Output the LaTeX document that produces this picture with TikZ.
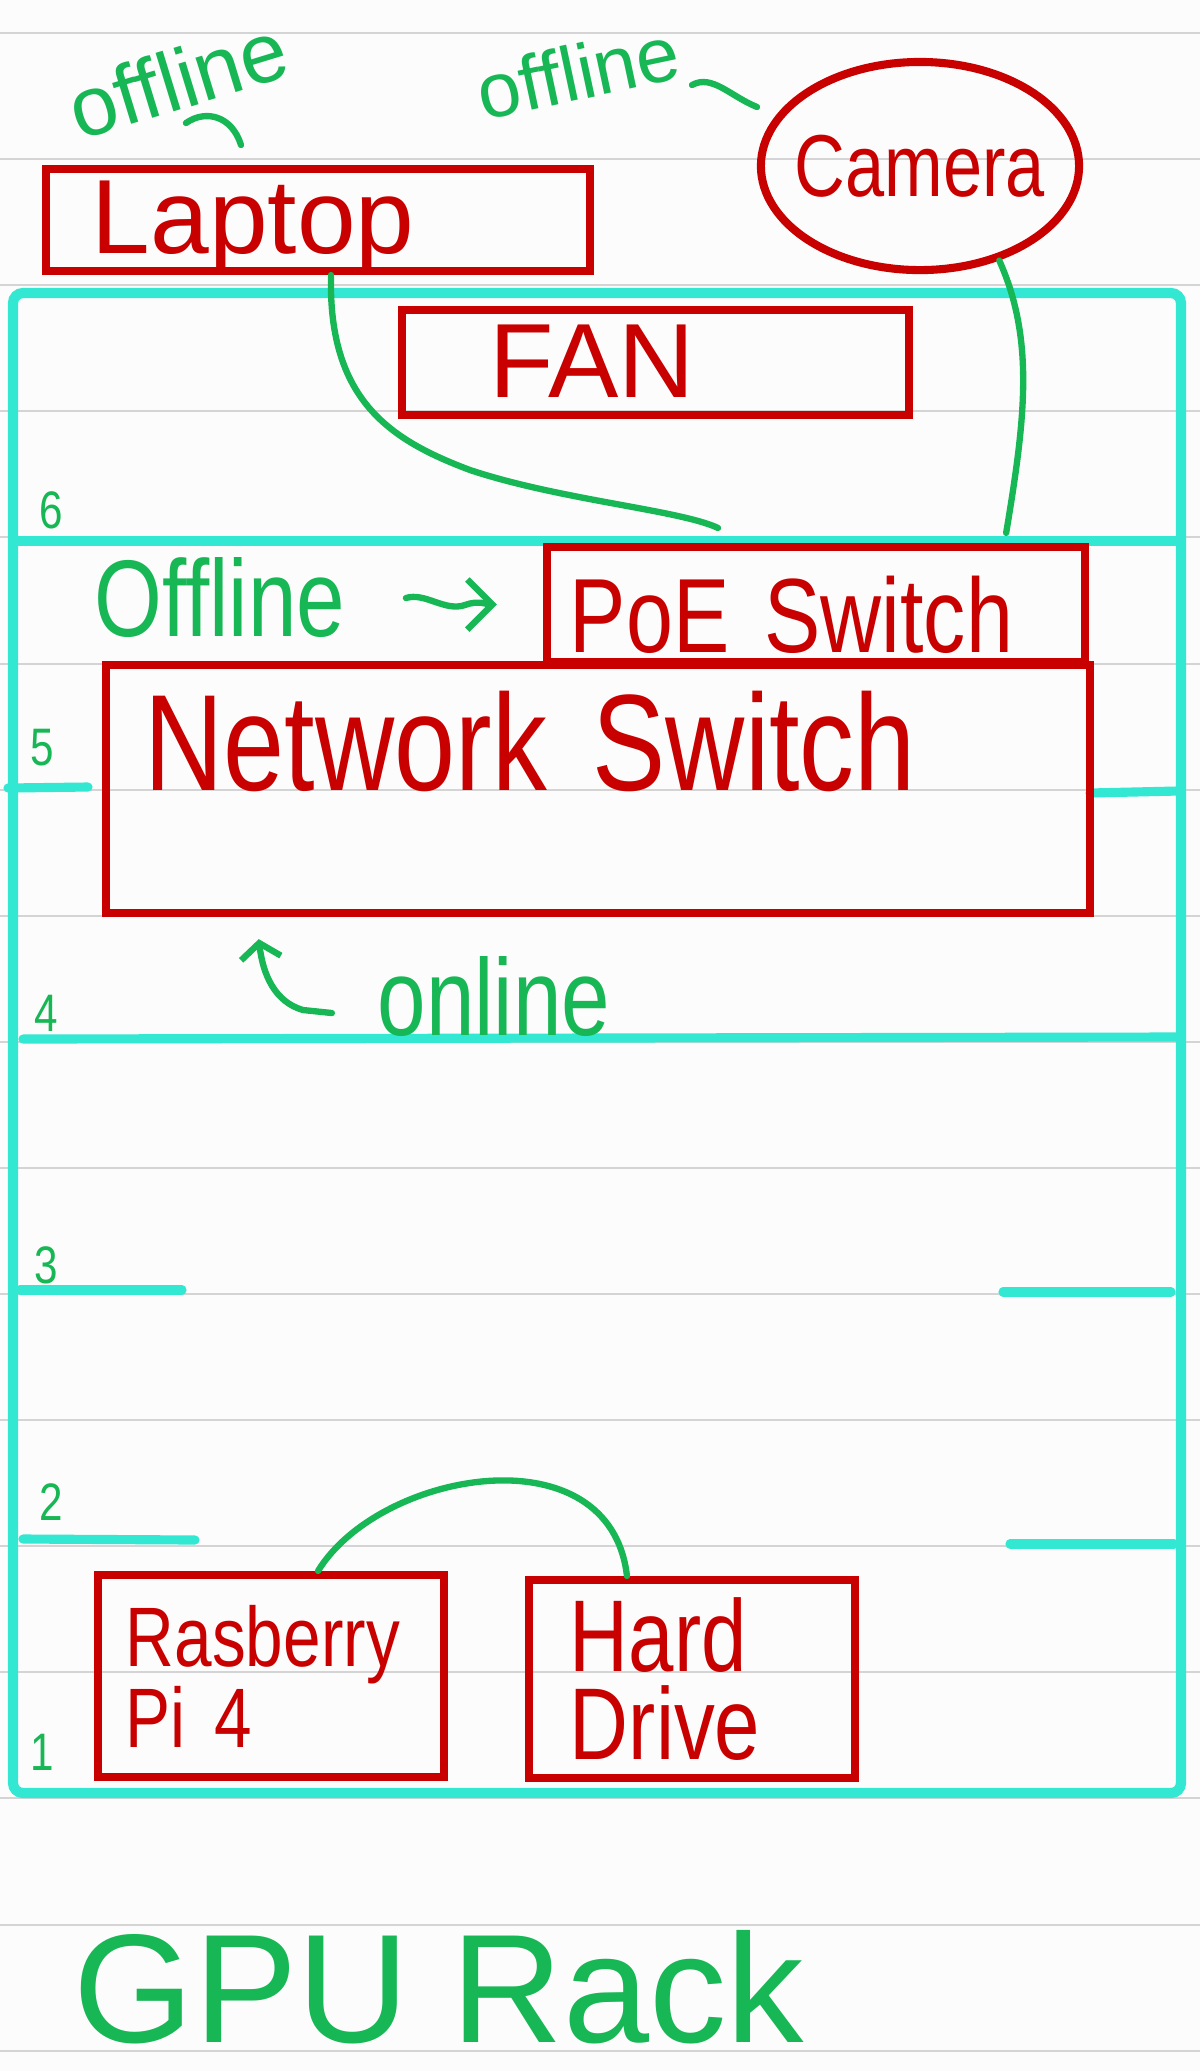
\documentclass[tikz,border=0pt]{standalone}
\usepackage{fontspec}
\newfontfamily\mano[FakeStretch=0.8]{Liberation Sans}
\newfontfamily\manoancha{Liberation Sans}
\usepackage{xcolor}
\definecolor{rojo}{HTML}{C80000}
\definecolor{verde}{HTML}{16B754}
\definecolor{turquesa}{HTML}{33E8D2}
\definecolor{renglon}{HTML}{D4D4D4}
\definecolor{papel}{HTML}{FCFCFC}
\usetikzlibrary{positioning,arrows.meta,shapes.geometric}

\begin{document}
\begin{tikzpicture}[
  x=0.01cm, y=-0.01cm,
  caja/.style={rectangle, draw=rojo, line width=2.3pt, text=rojo, inner sep=0pt, align=left},
  nota/.style={text=verde, inner sep=0pt},
  numero/.style={text=verde, inner sep=0pt, font=\mano\fontsize{15}{15}\selectfont},
  cable/.style={draw=verde, line width=1.8pt, line cap=round, line join=round},
  flecha/.style={cable, -{Straight Barb[length=2.5mm, width=5mm]}},
  balda/.style={draw=turquesa, line width=2.6pt, line cap=round},
  raya/.style={draw=renglon, line width=0.8pt}
]
\useasboundingbox (0,0) rectangle (1200,2071);
\fill[papel] (0,0) rectangle (1200,2071);
\draw[raya] (0,33) -- (1200,33) (0,159) -- (1200,159) (0,285) -- (1200,285) (0,411) -- (1200,411)
  (0,537) -- (1200,537) (0,664) -- (1200,664) (0,790) -- (1200,790) (0,916) -- (1200,916)
  (0,1042) -- (1200,1042) (0,1168) -- (1200,1168) (0,1294) -- (1200,1294) (0,1420) -- (1200,1420)
  (0,1546) -- (1200,1546) (0,1672) -- (1200,1672) (0,1798) -- (1200,1798) (0,1925) -- (1200,1925)
  (0,2051) -- (1200,2051);
\draw[turquesa, line width=2.9pt, rounded corners=1mm] (13,293) rectangle (1181,1793);
\draw[balda] (13,541) -- (1175,541);
\draw[balda] (8,788) -- (88,787);
\draw[balda] (1090,793) -- (1178,791);
\draw[balda] (23,1039) -- (1178,1037);
\draw[balda] (20,1290) -- (182,1290);
\draw[balda] (1003,1292) -- (1171,1292);
\draw[balda] (23,1539) -- (195,1540);
\draw[balda] (1010,1544) -- (1174,1544);
\node[numero] (e6) at (51,510) {6};
\node[numero] (e5) at (42,748) {5};
\node[numero] (e4) at (46,1013) {4};
\node[numero] (e3) at (46,1265) {3};
\node[numero] (e2) at (51,1502) {2};
\node[numero] (e1) at (42,1752) {1};
\node[caja, minimum width=5.44cm, text width=4.52cm, text height=0.84cm, text depth=0.18cm, font=\manoancha\fontsize{30}{34}\selectfont] (laptop) at (318,220) {Laptop};
\node[caja, ellipse, inner xsep=-1.8mm, minimum width=3.18cm, minimum height=2.08cm, font=\mano\fontsize{25}{28}\selectfont] (camera) at (920,166) {Camera};
\node[caja, minimum width=5.07cm, text width=3.31cm, text height=0.87cm, text depth=0.18cm, font=\manoancha\fontsize{30}{34}\selectfont] (fan) at (655.5,362.5) {FAN};
\node[caja, minimum width=5.38cm, text width=4.92cm, text height=1.05cm, text depth=0.10cm, font=\mano\fontsize{30}{34}\selectfont] (poe) at (816,604.5) {PoE Switch};
\node[caja, minimum width=9.84cm, text width=9.06cm, text height=1.25cm, text depth=1.23cm, font=\mano\fontsize{39}{44}\selectfont] (netsw) at (598,789) {Network Switch};
\node[caja, minimum width=3.46cm, minimum height=2.02cm, text width=2.9cm, font=\mano\fontsize{24}{23}\selectfont] (rpi) at (271,1676) {Rasberry\\Pi 4};
\node[caja, minimum width=3.26cm, minimum height=1.98cm, text width=2.44cm, font=\mano\fontsize{29}{25}\selectfont] (hdd) at (692,1679) {Hard\\Drive};
\node[nota, rotate=17, font=\manoancha\fontsize{24}{28}\selectfont] (off1) at (178,79) {offline};
\node[nota, rotate=12, font=\manoancha\fontsize{22}{26}\selectfont] (off2) at (578,72) {offline};
\node[nota, font=\mano\fontsize{31}{34}\selectfont] (off3) at (220,598) {Offline};
\node[nota, font=\mano\fontsize{31}{34}\selectfont] (online) at (494,997) {online};
\node[nota, anchor=base west, font=\manoancha\fontsize{44}{48}\selectfont] (titulo) at (73,2042) {GPU Rack};
\draw[cable] (186,123) .. controls (206,109) and (232,116) .. (241,145);
\draw[cable] (692,85) .. controls (712,74) and (730,96) .. (757,107);
\draw[cable] ([xshift=1.3mm]laptop.south) .. controls (328,400) and (390,440) .. (470,470) .. controls (560,500) and (680,510) .. ([xshift=-9.8mm,yshift=1.5mm]poe.north);
\draw[cable] (camera.-50) .. controls (1035,340) and (1025,420) .. ([xshift=-8.3mm,yshift=1mm]poe.north east);
\draw[cable] ([xshift=4.7mm]rpi.north) .. controls (380,1470) and (610,1430) .. ([xshift=-6.5mm]hdd.north);
\draw[flecha] ([xshift=6mm]off3.east) .. controls (425,592) and (445,612) .. (465,605) .. controls (478,600) and (488,604.5) .. ([xshift=-4.6mm]poe.west);
\draw[cable, -{Straight Barb[length=1.5mm, width=4mm]}] ([xshift=-4.5mm,yshift=-1.6mm]online.west) -- (303,1010) .. controls (275,1002) and (263,975) .. ([xshift=15.7mm,yshift=-2.2mm]netsw.south west);
\end{tikzpicture}
\end{document}
